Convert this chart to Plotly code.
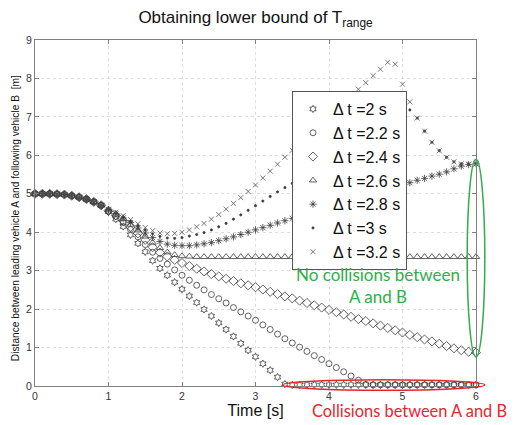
import plotly.graph_objects as go

# ---------------- data ----------------
TIME = [0.0, 0.1, 0.2, 0.3, 0.4, 0.5, 0.6, 0.7, 0.8, 0.9,
        1.0, 1.1, 1.2, 1.3, 1.4, 1.5, 1.6, 1.7, 1.8, 1.9,
        2.0, 2.1, 2.2, 2.3, 2.4, 2.5, 2.6, 2.7, 2.8, 2.9,
        3.0, 3.1, 3.2, 3.3, 3.4, 3.5, 3.6, 3.7, 3.8, 3.9,
        4.0, 4.1, 4.2, 4.3, 4.4, 4.5, 4.6, 4.7, 4.8, 4.9,
        5.0, 5.1, 5.2, 5.3, 5.4, 5.5, 5.6, 5.7, 5.8, 5.9,
        6.0]

DT_20 = [5.00, 5.00, 5.00, 4.99, 4.98, 4.95, 4.91, 4.86, 4.79, 4.70,
         4.53, 4.34, 4.15, 3.93, 3.71, 3.49, 3.26, 3.06, 2.88, 2.70,
         2.52, 2.34, 2.17, 1.99, 1.82, 1.64, 1.47, 1.29, 1.11, 0.93,
         0.76, 0.58, 0.41, 0.23, 0.05, 0.03, 0.03, 0.03, 0.03, 0.03,
         0.03, 0.03, 0.03, 0.03, 0.03, 0.03, 0.03, 0.03, 0.03, 0.03,
         0.03, 0.03, 0.03, 0.03, 0.03, 0.03, 0.03, 0.03, 0.03, 0.03,
         0.03]

DT_22 = [5.00, 5.00, 5.00, 4.99, 4.98, 4.95, 4.91, 4.86, 4.79, 4.70,
         4.55, 4.41, 4.25, 4.07, 3.88, 3.68, 3.48, 3.32, 3.17, 3.02,
         2.88, 2.75, 2.62, 2.50, 2.38, 2.27, 2.16, 2.04, 1.93, 1.82,
         1.71, 1.59, 1.47, 1.35, 1.23, 1.12, 1.01, 0.90, 0.79, 0.69,
         0.58, 0.48, 0.37, 0.26, 0.15, 0.04, 0.03, 0.03, 0.03, 0.03,
         0.03, 0.03, 0.03, 0.03, 0.03, 0.03, 0.03, 0.03, 0.03, 0.03,
         0.03]

DT_24 = [5.00, 5.00, 5.00, 4.99, 4.98, 4.95, 4.91, 4.86, 4.79, 4.70,
         4.56, 4.44, 4.30, 4.14, 3.97, 3.80, 3.61, 3.47, 3.37, 3.28,
         3.20, 3.12, 3.05, 2.98, 2.91, 2.85, 2.79, 2.73, 2.67, 2.62,
         2.57, 2.51, 2.45, 2.39, 2.33, 2.28, 2.22, 2.16, 2.10, 2.04,
         1.98, 1.92, 1.86, 1.80, 1.74, 1.69, 1.63, 1.57, 1.51, 1.45,
         1.39, 1.33, 1.27, 1.21, 1.16, 1.10, 1.04, 0.98, 0.93, 0.89,
         0.87]

DT_26 = [5.00, 5.00, 5.00, 4.99, 4.98, 4.95, 4.91, 4.86, 4.79, 4.70,
         4.57, 4.46, 4.34, 4.20, 4.05, 3.89, 3.73, 3.59, 3.48, 3.41,
         3.38, 3.37, 3.36, 3.36, 3.36, 3.36, 3.36, 3.36, 3.36, 3.36,
         3.36, 3.36, 3.36, 3.36, 3.36, 3.36, 3.36, 3.36, 3.36, 3.36,
         3.36, 3.36, 3.36, 3.36, 3.36, 3.36, 3.36, 3.36, 3.36, 3.36,
         3.36, 3.36, 3.36, 3.36, 3.36, 3.36, 3.36, 3.36, 3.36, 3.36,
         3.36]

DT_28 = [5.00, 5.00, 5.00, 4.99, 4.98, 4.95, 4.91, 4.86, 4.79, 4.70,
         4.58, 4.48, 4.37, 4.25, 4.11, 3.98, 3.86, 3.76, 3.69, 3.66,
         3.65, 3.65, 3.67, 3.70, 3.73, 3.78, 3.83, 3.88, 3.94, 4.00,
         4.06, 4.12, 4.18, 4.24, 4.30, 4.36, 4.42, 4.48, 4.54, 4.60,
         4.65, 4.71, 4.77, 4.83, 4.88, 4.94, 5.00, 5.06, 5.12, 5.17,
         5.23, 5.29, 5.35, 5.40, 5.46, 5.51, 5.57, 5.65, 5.72, 5.76,
         5.78]

DT_30 = [5.00, 5.00, 5.00, 4.99, 4.98, 4.95, 4.91, 4.86, 4.79, 4.70,
         4.59, 4.50, 4.40, 4.29, 4.17, 4.06, 3.96, 3.89, 3.85, 3.84,
         3.86, 3.90, 3.94, 3.99, 4.06, 4.14, 4.23, 4.34, 4.45, 4.57,
         4.69, 4.81, 4.93, 5.05, 5.16, 5.27, 5.39, 5.51, 5.63, 5.75,
         5.87, 5.99, 6.11, 6.23, 6.35, 6.47, 6.59, 6.71, 6.83, 6.95,
         7.07, 7.18, 6.97, 6.63, 6.34, 6.12, 5.95, 5.83, 5.78, 5.77,
         5.78]

DT_32 = [5.00, 5.00, 5.00, 4.99, 4.98, 4.95, 4.91, 4.86, 4.79, 4.70,
         4.60, 4.52, 4.43, 4.33, 4.22, 4.12, 4.04, 3.98, 3.96, 3.97,
         4.00, 4.06, 4.14, 4.23, 4.34, 4.46, 4.60, 4.75, 4.90, 5.06,
         5.23, 5.41, 5.59, 5.77, 5.95, 6.13, 6.31, 6.49, 6.67, 6.85,
         7.02, 7.20, 7.37, 7.55, 7.72, 7.89, 8.07, 8.24, 8.42, 8.37,
         7.85, 7.39, 6.97, 6.63, 6.34, 6.12, 5.95, 5.83, 5.78, 5.77,
         5.78]

SERIES_NAMES = ["Δ t =2 s", "Δ t =2.2 s", "Δ t =2.4 s", "Δ t =2.6 s",
                "Δ t =2.8 s", "Δ t =3 s", "Δ t =3.2 s"]
SERIES_VALUES = [DT_20, DT_22, DT_24, DT_26, DT_28, DT_30, DT_32]

X_TICKS = [0, 1, 2, 3, 4, 5, 6]
Y_TICKS = [0, 1, 2, 3, 4, 5, 6, 7, 8, 9]
X_RANGE = [0, 6]
Y_RANGE = [0, 9]

# region highlighted by the ellipses (data units)
GREEN_BOX = dict(x0=5.88, x1=6.12, y0=0.76, y1=5.90)
RED_BOX = dict(x0=3.37, x1=6.12, y0=-0.11, y1=0.16)

# ---------------- styles ----------------
MARKERS = [
    dict(symbol="hexagram-open", size=5.5, color="#3a3a3a"),
    dict(symbol="circle-open", size=6, color="#3a3a3a"),
    dict(symbol="diamond-open", size=7, color="#3a3a3a"),
    dict(symbol="triangle-up-open", size=6.5, color="#3a3a3a"),
    dict(symbol="asterisk-open", size=6, color="#3a3a3a"),
    dict(symbol="circle", size=2.2, color="#3a3a3a"),
    dict(symbol="x-thin-open", size=5, color="#555555"),
]

# page body has an 8px margin: shrink the figure so it fits the window
W, H = 508, 417
PLOT_L, PLOT_T, PLOT_R, PLOT_B = 27, 32, 468, 377.7   # plot area in figure px
PW, PH = PLOT_R - PLOT_L, PLOT_B - PLOT_T

fig = go.Figure()
for name, vals, mk in zip(SERIES_NAMES, SERIES_VALUES, MARKERS):
    fig.add_trace(go.Scatter(
        x=TIME, y=vals, mode="markers", name=name, cliponaxis=False,
        marker=dict(symbol=mk["symbol"], size=mk["size"], color=mk["color"],
                    line=dict(color=mk["color"], width=0.8)),
    ))

def to_paper_x(v):
    return (v - X_RANGE[0]) / (X_RANGE[1] - X_RANGE[0])

def to_paper_y(v):
    return (v - Y_RANGE[0]) / (Y_RANGE[1] - Y_RANGE[0])

def fx(px):  # absolute page px -> paper x
    return (px - 8 - PLOT_L) / PW

def fy(py):  # absolute page px -> paper y
    return (PLOT_B - (py - 8)) / PH

shapes = [
    dict(type="circle", xref="paper", yref="paper",
         x0=to_paper_x(GREEN_BOX["x0"]), x1=to_paper_x(GREEN_BOX["x1"]),
         y0=to_paper_y(GREEN_BOX["y0"]), y1=to_paper_y(GREEN_BOX["y1"]),
         line=dict(color="#2fae4a", width=1.5)),
    dict(type="circle", xref="paper", yref="paper",
         x0=to_paper_x(RED_BOX["x0"]), x1=to_paper_x(RED_BOX["x1"]),
         y0=to_paper_y(RED_BOX["y0"]), y1=to_paper_y(RED_BOX["y1"]),
         line=dict(color="#e3262d", width=1.5)),
]

axis_common = dict(
    showgrid=True, gridcolor="#dedede", griddash="dot", gridwidth=1,
    zeroline=False, showline=True, linecolor="#808080", linewidth=1,
    mirror="ticks", ticks="inside", ticklen=4, tickcolor="#808080",
    tickfont=dict(family="Liberation Sans, Arial, sans-serif", size=10.5, color="#333"),
)

fig.update_layout(
    width=W, height=H,
    margin=dict(l=PLOT_L, r=W - PLOT_R, t=PLOT_T, b=H - PLOT_B),
    paper_bgcolor="white", plot_bgcolor="white",
    font=dict(family="Liberation Sans, Arial, sans-serif", color="#111"),
    title=dict(text="Obtaining lower bound of T<sub>range</sub>",
               x=(255.5 - 8) / W, xanchor="center",
               y=1 - (17 - 8) / H, yanchor="middle", yref="container",
               font=dict(size=17, color="#111")),
    xaxis=dict(range=X_RANGE, tickvals=X_TICKS,
               title=dict(text="Time [s]", font=dict(size=16, color="#111"), standoff=2),
               **axis_common),
    yaxis=dict(range=Y_RANGE, tickvals=Y_TICKS, **axis_common),
    showlegend=True,
    legend=dict(x=fx(292), y=fy(91), xanchor="left", yanchor="top",
                bgcolor="white", bordercolor="#555", borderwidth=1,
                font=dict(size=16, color="#111"), tracegroupgap=0,
                itemwidth=30),
    shapes=shapes,
    annotations=[
        dict(text="Distance between leading vehicle A and following vehicle B  [m]",
             xref="paper", yref="paper", x=fx(15), y=fy(218), textangle=-90,
             showarrow=False, xanchor="center", yanchor="middle",
             font=dict(family="Liberation Sans, Arial, sans-serif", size=10.2, color="#111")),
        dict(text="No collisions between<br>A and B", xref="paper", yref="paper",
             x=fx(378), y=fy(285.5), showarrow=False,
             xanchor="center", yanchor="middle",
             font=dict(family="Lato, Open Sans, sans-serif", size=17, color="#2fae4a")),
        dict(text="Collisions between A and B", xref="paper", yref="paper",
             x=fx(409), y=fy(410.5), showarrow=False,
             xanchor="center", yanchor="middle",
             font=dict(family="Lato, Open Sans, sans-serif", size=16.4, color="#e3262d")),
    ],
)
fig.update_xaxes(automargin=False)
fig.update_yaxes(automargin=False)

fig.write_html("out.html")
